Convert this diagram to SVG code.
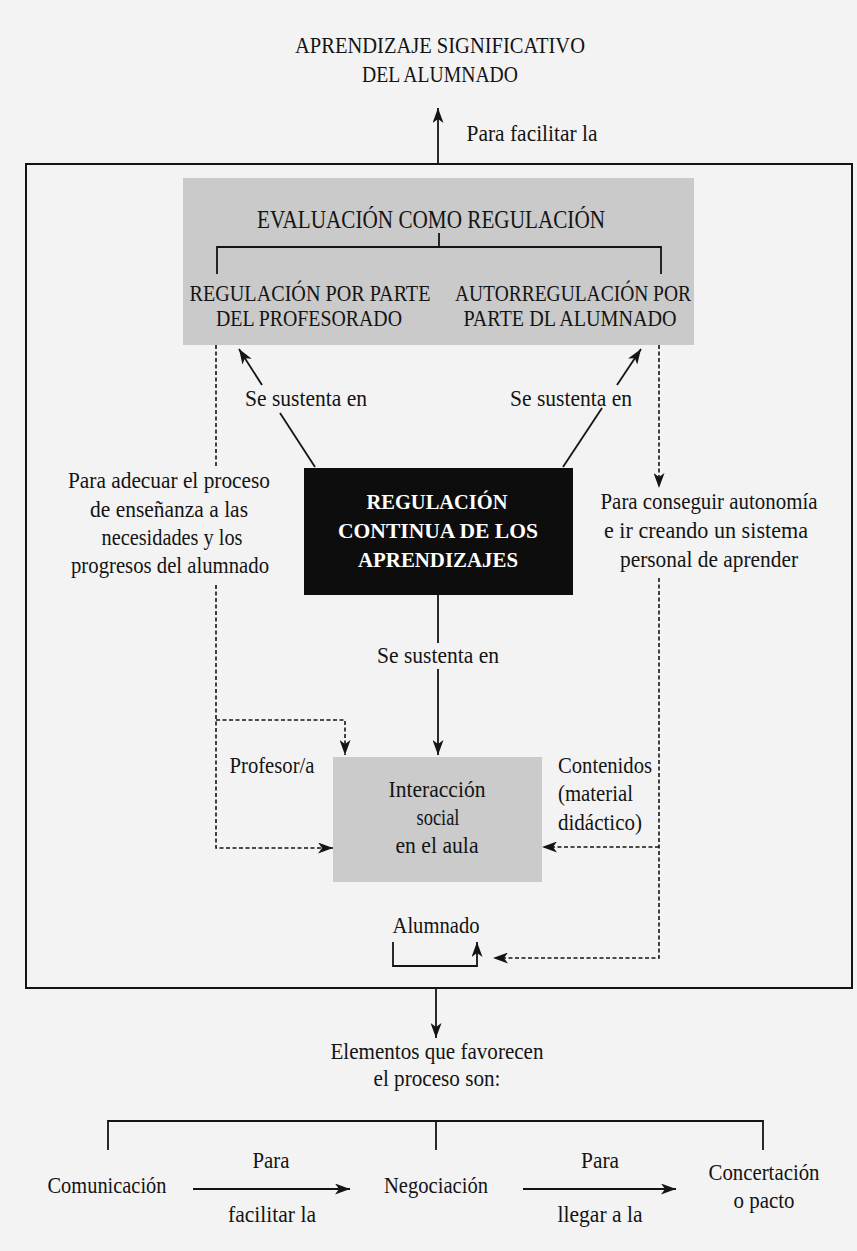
<svg xmlns="http://www.w3.org/2000/svg" width="857" height="1251" viewBox="0 0 857 1251">
<style>
.t{font-family:"Liberation Serif","Times New Roman",serif;font-size:23px;fill:#141414;text-anchor:middle}
.c{font-size:23px}
.h{font-size:25px}
.b{font-family:"Liberation Serif","Times New Roman",serif;font-size:22px;font-weight:bold;fill:#ffffff;text-anchor:middle}
.l{text-anchor:start}
.ln{stroke:#141414;stroke-width:1.8;fill:none}
.d{stroke:#141414;stroke-width:1.6;fill:none;stroke-dasharray:4 2.5}
.gray{fill:#cacaca}
</style>
<defs>
<marker id="ah" markerUnits="userSpaceOnUse" markerWidth="15" markerHeight="11" refX="15" refY="5.5" orient="auto" viewBox="0 0 15 11">
<path d="M0,0 L15,5.5 L0,11 L4,5.5 Z" fill="#141414"/>
</marker>
</defs>
<rect width="857" height="1251" fill="#f3f3f3"/>

<g id="top-title">
<text class="t c" x="440" y="53" textLength="290" lengthAdjust="spacingAndGlyphs">APRENDIZAJE SIGNIFICATIVO</text>
<text class="t c" x="440" y="82" textLength="156" lengthAdjust="spacingAndGlyphs">DEL ALUMNADO</text>
</g>

<g id="frame">
<rect x="26" y="164" width="826" height="824" fill="none" stroke="#141414" stroke-width="2"/>
</g>

<g id="evaluacion">
<rect class="gray" x="183" y="178" width="511" height="167"/>
<text class="t h" x="431" y="228" textLength="348" lengthAdjust="spacingAndGlyphs">EVALUACIÓN COMO REGULACIÓN</text>
</g>

<g id="regulacion-profesorado">
<text class="t c" x="310" y="301" textLength="241" lengthAdjust="spacingAndGlyphs">REGULACIÓN POR PARTE</text>
<text class="t c" x="309" y="326" textLength="186" lengthAdjust="spacingAndGlyphs">DEL PROFESORADO</text>
</g>

<g id="autorregulacion-alumnado">
<text class="t c" x="573" y="301" textLength="236" lengthAdjust="spacingAndGlyphs">AUTORREGULACIÓN POR</text>
<text class="t c" x="570" y="326" textLength="213" lengthAdjust="spacingAndGlyphs">PARTE DL ALUMNADO</text>
</g>

<g id="regulacion-continua">
<rect x="304" y="468" width="269" height="127" fill="#0d0d0d"/>
<text class="b" x="437" y="509" textLength="141" lengthAdjust="spacingAndGlyphs">REGULACIÓN</text>
<text class="b" x="438" y="538" textLength="200" lengthAdjust="spacingAndGlyphs">CONTINUA DE LOS</text>
<text class="b" x="438" y="567" textLength="160" lengthAdjust="spacingAndGlyphs">APRENDIZAJES</text>
</g>

<g id="interaccion">
<rect x="333" y="757" width="209" height="125" fill="#cbcbcb"/>
<text class="t" x="437" y="797" textLength="97" lengthAdjust="spacingAndGlyphs">Interacción</text>
<text class="t" x="438" y="825" textLength="43" lengthAdjust="spacingAndGlyphs">social</text>
<text class="t" x="437" y="853" textLength="83" lengthAdjust="spacingAndGlyphs">en el aula</text>
</g>

<g id="alumnado">
<text class="t" x="436" y="933" textLength="87" lengthAdjust="spacingAndGlyphs">Alumnado</text>
</g>

<g id="elementos">
<text class="t" x="437" y="1059" textLength="213" lengthAdjust="spacingAndGlyphs">Elementos que favorecen</text>
<text class="t" x="437" y="1086" textLength="127" lengthAdjust="spacingAndGlyphs">el proceso son:</text>
</g>

<g id="comunicacion">
<text class="t" x="107" y="1193" textLength="119" lengthAdjust="spacingAndGlyphs">Comunicación</text>
</g>
<g id="negociacion">
<text class="t" x="436" y="1193" textLength="104" lengthAdjust="spacingAndGlyphs">Negociación</text>
</g>
<g id="concertacion">
<text class="t" x="764" y="1180" textLength="111" lengthAdjust="spacingAndGlyphs">Concertación</text>
<text class="t" x="764" y="1208" textLength="61" lengthAdjust="spacingAndGlyphs">o pacto</text>
</g>

<g id="connectors">
<line class="ln" x1="438" y1="164" x2="438" y2="108" marker-end="url(#ah)"/>
<line class="ln" x1="439" y1="233" x2="439" y2="247"/>
<polyline class="ln" points="217,274 217,247 661,247 661,274"/>
<line class="ln" x1="280" y1="413" x2="315" y2="467"/>
<line class="ln" x1="262" y1="385" x2="239" y2="349" marker-end="url(#ah)"/>
<line class="ln" x1="563" y1="467" x2="602" y2="408"/>
<line class="ln" x1="617" y1="385" x2="641" y2="349" marker-end="url(#ah)"/>
<line class="ln" x1="438" y1="595" x2="438" y2="643"/>
<line class="ln" x1="438" y1="669" x2="438" y2="755" marker-end="url(#ah)"/>
<line class="d" x1="216" y1="345" x2="216" y2="467"/>
<polyline class="d" points="216,585 216,848 333,848" marker-end="url(#ah)"/>
<polyline class="d" points="216,720 345,720 345,755" marker-end="url(#ah)"/>
<line class="d" x1="659" y1="345" x2="659" y2="488" marker-end="url(#ah)"/>
<polyline class="d" points="659,578 659,958 493,958" marker-end="url(#ah)"/>
<line class="d" x1="659" y1="847" x2="542" y2="847" marker-end="url(#ah)"/>
<polyline class="ln" points="393,942 393,966 477,966 477,942" marker-end="url(#ah)"/>
<line class="ln" x1="436" y1="988" x2="436" y2="1038" marker-end="url(#ah)"/>
<polyline class="ln" points="108,1150 108,1121 763,1121 763,1150"/>
<line class="ln" x1="436" y1="1121" x2="436" y2="1150"/>
<line class="ln" x1="193" y1="1189" x2="350" y2="1189" marker-end="url(#ah)"/>
<line class="ln" x1="523" y1="1189" x2="676" y2="1189" marker-end="url(#ah)"/>
</g>

<g id="labels">
<text class="t" x="532" y="141" textLength="131" lengthAdjust="spacingAndGlyphs">Para facilitar la</text>
<text class="t" x="306" y="406" textLength="122" lengthAdjust="spacingAndGlyphs">Se sustenta en</text>
<text class="t" x="571" y="406" textLength="122" lengthAdjust="spacingAndGlyphs">Se sustenta en</text>
<text class="t" x="169" y="488" textLength="202" lengthAdjust="spacingAndGlyphs">Para adecuar el proceso</text>
<text class="t" x="169" y="517" textLength="158" lengthAdjust="spacingAndGlyphs">de enseñanza a las</text>
<text class="t" x="172" y="545" textLength="141" lengthAdjust="spacingAndGlyphs">necesidades y los</text>
<text class="t" x="170" y="573" textLength="198" lengthAdjust="spacingAndGlyphs">progresos del alumnado</text>
<text class="t" x="709" y="509" textLength="217" lengthAdjust="spacingAndGlyphs">Para conseguir autonomía</text>
<text class="t" x="706" y="538" textLength="204" lengthAdjust="spacingAndGlyphs">e ir creando un sistema</text>
<text class="t" x="709" y="567" textLength="178" lengthAdjust="spacingAndGlyphs">personal de aprender</text>
<text class="t" x="438" y="663" textLength="122" lengthAdjust="spacingAndGlyphs">Se sustenta en</text>
<text class="t" x="272" y="773" textLength="85" lengthAdjust="spacingAndGlyphs">Profesor/a</text>
<text class="t l" x="558" y="773" textLength="94" lengthAdjust="spacingAndGlyphs">Contenidos</text>
<text class="t l" x="558" y="801" textLength="75" lengthAdjust="spacingAndGlyphs">(material</text>
<text class="t l" x="558" y="830" textLength="84" lengthAdjust="spacingAndGlyphs">didáctico)</text>
<text class="t" x="271" y="1168" textLength="37" lengthAdjust="spacingAndGlyphs">Para</text>
<text class="t" x="272" y="1222" textLength="88" lengthAdjust="spacingAndGlyphs">facilitar la</text>
<text class="t" x="600" y="1168" textLength="38" lengthAdjust="spacingAndGlyphs">Para</text>
<text class="t" x="600" y="1222" textLength="85" lengthAdjust="spacingAndGlyphs">llegar a la</text>
</g>
</svg>
